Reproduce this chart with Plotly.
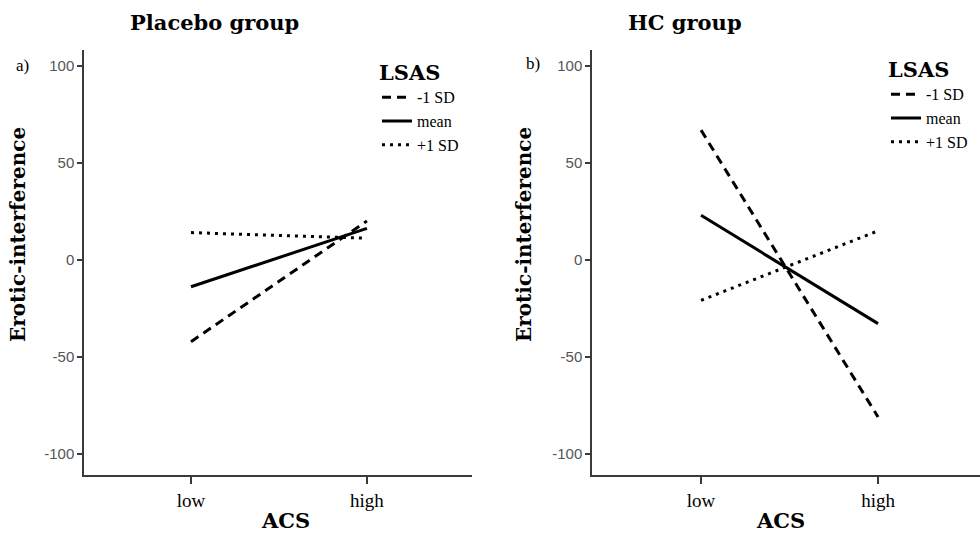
import plotly.graph_objects as go

categories = [0, 1]
tick_labels = ["low", "high"]
series_names = ["-1 SD", "mean", "+1 SD"]
placebo_minus1sd = [-42.1, 20.1]
placebo_mean = [-13.8, 16.3]
placebo_plus1sd = [14.1, 11.2]
hc_minus1sd = [66.9, -80.9]
hc_mean = [23.0, -32.8]
hc_plus1sd = [-20.8, 15.0]
y_ticks = [-100, -50, 0, 50, 100]
y_tick_text = ["-100", "-50", "0", "50", "100"]

W, H = 980, 534
dashes = ["9px,6px", "solid", "3px,5px"]
SERIF = "Liberation Serif"
BOLD = "DejaVu Serif"

fig = go.Figure()
panels = [
    ([placebo_minus1sd, placebo_mean, placebo_plus1sd], "x", "y", "legend"),
    ([hc_minus1sd, hc_mean, hc_plus1sd], "x2", "y2", "legend2"),
]
for vals, xa, ya, lg in panels:
    for name, v, d in zip(series_names, vals, dashes):
        fig.add_trace(go.Scatter(
            x=categories, y=v, mode="lines", name=name,
            line=dict(color="black", width=3, dash=d),
            xaxis=xa, yaxis=ya, legend=lg, hoverinfo="skip"))

axis_common = dict(showline=True, linecolor="#3a3a3a", linewidth=1.5,
                   showgrid=False, zeroline=False, ticks="outside",
                   tickcolor="#3a3a3a", tickwidth=1.5, automargin=False)
ydom = [(H - 475) / H, (H - 50) / H]
yax = dict(axis_common, range=[-110.8, 108.2], tickvals=y_ticks, ticktext=y_tick_text,
           ticklen=5, tickfont=dict(family="Liberation Sans", size=15, color="#555"),
           domain=ydom)
xax = dict(axis_common, tickvals=categories, ticktext=tick_labels, ticklen=7,
           tickfont=dict(family=SERIF, size=19, color="black"))

legend_style = dict(font=dict(family=SERIF, size=16, color="black"),
                    bgcolor="rgba(0,0,0,0)", itemwidth=30,
                    xanchor="left", yanchor="top", tracegroupgap=0,
                    title=dict(text="<b>LSAS</b>", side="top",
                               font=dict(family=BOLD, size=21, color="black")))


def ann(text, x, y, size, family=BOLD, angle=0):
    return dict(text=text, x=x / W, y=1 - y / H, xref="paper", yref="paper",
                xanchor="center", yanchor="middle", showarrow=False, textangle=angle,
                font=dict(family=family, size=size, color="black"))


fig.update_layout(
    width=W, height=H, margin=dict(l=0, r=0, t=0, b=0, autoexpand=False),
    paper_bgcolor="white", plot_bgcolor="white",
    xaxis=dict(xax, domain=[84 / W, 472 / W], range=[-0.608, 1.597], anchor="y"),
    yaxis=dict(yax, anchor="x"),
    xaxis2=dict(xax, domain=[592 / W, 1.0], range=[-0.616, 1.576], anchor="y2"),
    yaxis2=dict(yax, anchor="x2"),
    legend=dict(legend_style, x=377 / W, y=1 - 53 / H),
    legend2=dict(legend_style, x=886 / W, y=1 - 50 / H),
    annotations=[
        ann("<b>Placebo group</b>", 214, 23, 21),
        ann("<b>HC group</b>", 685, 23, 21),
        ann("a)", 22, 66, 17, SERIF),
        ann("b)", 533, 64, 17, SERIF),
        ann("<b>Erotic-interference</b>", 18, 235, 20, BOLD, -90),
        ann("<b>Erotic-interference</b>", 524, 235, 20, BOLD, -90),
        ann("<b>ACS</b>", 285, 520, 21),
        ann("<b>ACS</b>", 780, 520, 21),
    ],
)

fig.write_html("out.html", config={"displayModeBar": False},
               post_script="document.body.style.margin='0';document.body.style.overflow='hidden';")
